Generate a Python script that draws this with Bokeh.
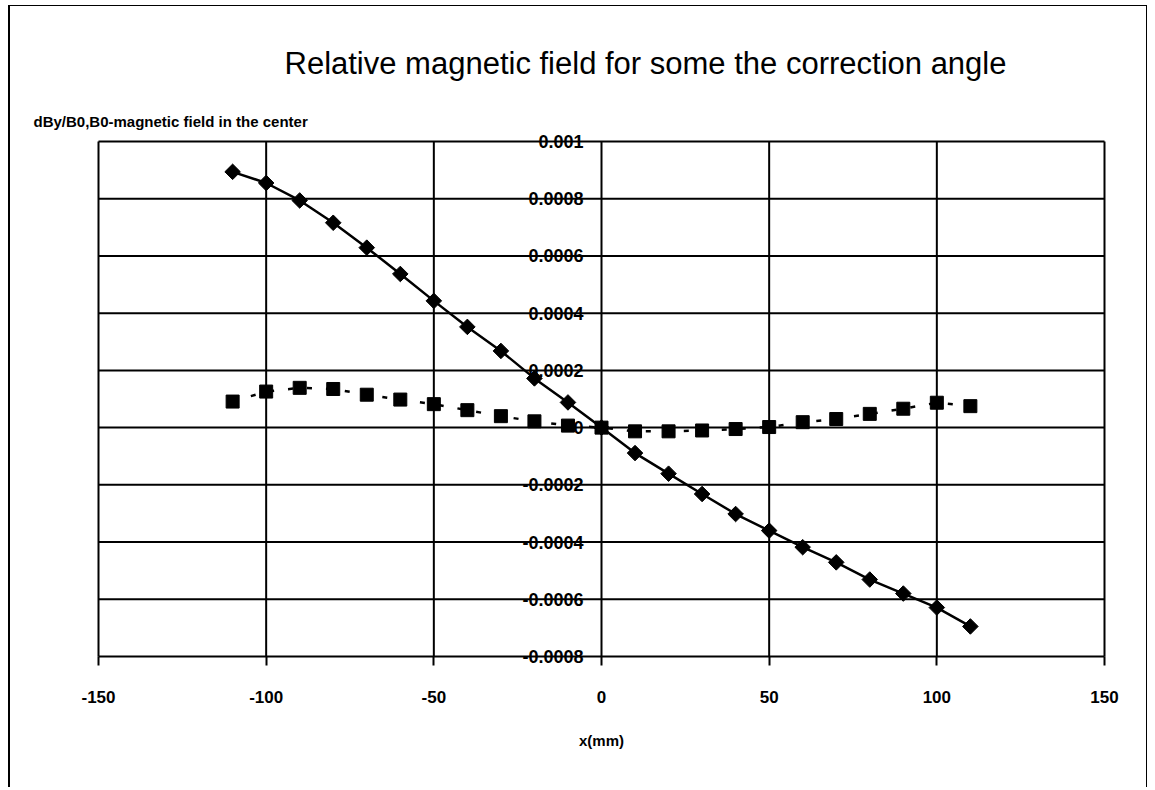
from bokeh.plotting import figure
from bokeh.models import FixedTicker, Title
from bokeh.embed import file_html
from bokeh.resources import INLINE
import math

# ---- data ----
x_mm = [-110, -100, -90, -80, -70, -60, -50, -40, -30, -20, -10, 0,
        10, 20, 30, 40, 50, 60, 70, 80, 90, 100, 110]
field_diamond = [0.000894, 0.000855, 0.000794, 0.000716, 0.000629, 0.000537,
                 0.000443, 0.000352, 0.000268, 0.000172, 0.000088, 0.0,
                 -0.000089, -0.000161, -0.000232, -0.000302, -0.000360,
                 -0.000418, -0.000471, -0.000531, -0.000580, -0.000629,
                 -0.000695]
field_square = [0.000091, 0.000126, 0.000139, 0.000135, 0.000115, 0.000098,
                0.000082, 0.000061, 0.000040, 0.000022, 0.000007, 0.0,
                -0.000013, -0.000013, -0.000010, -0.000005, 0.000002,
                0.000019, 0.000030, 0.000048, 0.000066, 0.000087, 0.000075]
x_ticks = [-150, -100, -50, 0, 50, 100, 150]
x_tick_labels = ["-150", "-100", "-50", "0", "50", "100", "150"]
y_ticks = [-0.0008, -0.0006, -0.0004, -0.0002, 0.0, 0.0002, 0.0004,
           0.0006, 0.0008, 0.001]
y_tick_labels = ["-0.0008", "-0.0006", "-0.0004", "-0.0002", "0", "0.0002",
                 "0.0004", "0.0006", "0.0008", "0.001"]
title_text = "Relative magnetic field for some the correction angle"
y_title_text = "dBy/B0,B0-magnetic field in the center"
x_title_text = "x(mm)"

FONT = "Liberation Sans"

# plot-area geometry (pixels) and small padding so edge labels are not clipped
PLOT_W, PLOT_H = 1006, 515
PAD_X, PAD_Y = 2, 9
x_lo, x_hi = x_ticks[0], x_ticks[-1]
y_lo, y_hi = y_ticks[0], y_ticks[-1]
dx = (x_hi - x_lo) * PAD_X / PLOT_W
dy = (y_hi - y_lo) * PAD_Y / PLOT_H

p = figure(width=1139, height=782, output_backend="svg", toolbar_location=None,
           x_range=(x_lo - dx, x_hi + dx), y_range=(y_lo - dy, y_hi + dy),
           min_border_left=88 - PAD_X, min_border_right=45 - PAD_X,
           min_border_top=135 - PAD_Y, min_border_bottom=132 - PAD_Y)

p.styles = {"margin-left": "8px", "margin-top": "5px",
            "border-top": "1px solid black", "border-left": "2px solid black",
            "border-right": "1px solid black"}

p.background_fill_color = "white"
p.border_fill_color = "white"
p.outline_line_color = None
p.xgrid.visible = False
p.ygrid.visible = False

# titles (outer: main title, inner: y-axis caption)
p.title.text = title_text
p.title.align = "left"
p.title.offset = 188
p.title.text_font = FONT
p.title.text_font_size = "31px"
p.title.text_font_style = "normal"
p.title.text_color = "black"
p.title.standoff = 56

y_cap = Title(text=y_title_text, align="left", offset=-63,
              text_font=FONT, text_font_size="15px", text_font_style="bold",
              text_color="black", standoff=5)
p.add_layout(y_cap, "above")

# grid lines of the plot area
p.segment(x0=x_ticks, y0=[y_lo] * len(x_ticks), x1=x_ticks, y1=[y_hi] * len(x_ticks),
          line_color="black", line_width=2)
p.segment(x0=[x_lo] * len(y_ticks), y0=y_ticks, x1=[x_hi] * len(y_ticks), y1=y_ticks,
          line_color="black", line_width=2)

# y axis: labels drawn along the x = 0 line
ya = p.yaxis[0]
ya.fixed_location = 0
ya.ticker = FixedTicker(ticks=y_ticks)
ya.major_label_overrides = {t: s for t, s in zip(y_ticks, y_tick_labels)}
ya.axis_line_color = None
ya.major_tick_line_color = None
ya.minor_tick_line_color = None
ya.major_tick_out = 0
ya.major_tick_in = 0
ya.major_label_standoff = 18
ya.major_label_text_font = FONT
ya.major_label_text_font_size = "18px"
ya.major_label_text_font_style = "bold"
ya.major_label_text_color = "black"

# x axis: ticks hang below the bottom grid line
xa = p.xaxis[0]
xa.ticker = FixedTicker(ticks=x_ticks)
xa.major_label_overrides = {t: s for t, s in zip(x_ticks, x_tick_labels)}
xa.minor_tick_line_color = None
xa.major_tick_in = PAD_Y
xa.major_tick_out = 0
xa.major_tick_line_width = 2
xa.major_tick_line_color = "black"
xa.axis_line_color = None
xa.major_label_standoff = 25
xa.major_label_text_font = FONT
xa.major_label_text_font_size = "17px"
xa.major_label_text_font_style = "bold"
xa.major_label_text_color = "black"
xa.axis_label = x_title_text
xa.axis_label_standoff = 26
xa.axis_label_text_font = FONT
xa.axis_label_text_font_size = "15px"
xa.axis_label_text_font_style = "bold"
xa.axis_label_text_color = "black"

# series
p.line(x_mm, field_diamond, line_color="black", line_width=2.5)
p.scatter(x_mm, field_diamond, marker="square", angle=math.pi / 4, size=11,
          fill_color="black", line_color="black")

p.line(x_mm, field_square, line_color="black", line_width=2.5, line_dash="5 14")
p.scatter(x_mm, field_square, marker="square", size=13,
          fill_color="black", line_color="black")

open("out.html", "w").write(file_html(p, INLINE))
